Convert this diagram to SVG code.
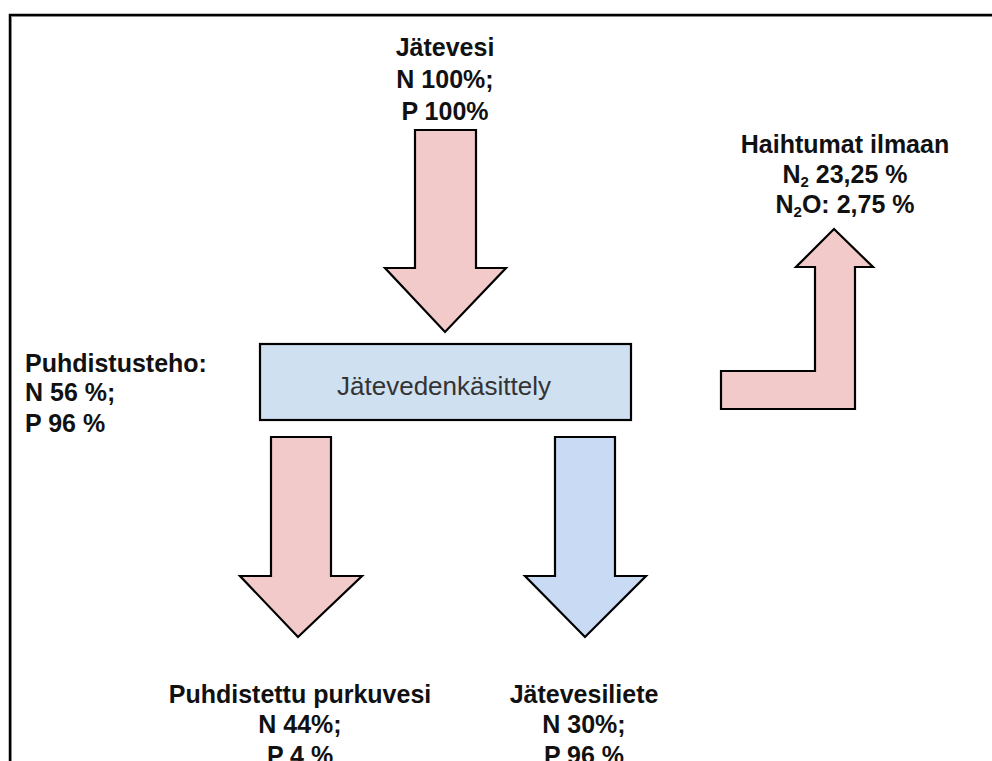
<svg xmlns="http://www.w3.org/2000/svg" width="992" height="761" viewBox="0 0 992 761">
<style>
.lbl{font-family:"Liberation Sans",Arial,sans-serif;font-weight:bold;font-size:25px;fill:#111;}
.mid{text-anchor:middle;}
.sub{font-size:15px;}
.arrow{stroke:#000;stroke-width:2.2;stroke-linejoin:miter;}
.pink{fill:#f3caca;}
.blue{fill:#c9daf5;}
</style>
<rect width="992" height="761" fill="#fff"/>
<path d="M10,761 V15 H992" fill="none" stroke="#000" stroke-width="2.5"/>
<path d="M11.5,761 V16.5 H992" fill="none" stroke="#888" stroke-width="1"/>

<g id="connectors">
  <path id="arrow-in" class="arrow pink" d="M415,130 H476 V268 H506 L445,332 L385,268 H415 Z"/>
  <path id="arrow-purkuvesi" class="arrow pink" d="M271,437 H331 V576 H362 L298,637 L240,576 H271 Z"/>
  <path id="arrow-liete" class="arrow blue" d="M555,437 H615 V576 H646 L585,637 L525,576 H555 Z"/>
  <path id="arrow-ilmaan" class="arrow pink" d="M721,371 H815 V267 H796 L834,229 L873,267 H855 V409 H721 Z"/>
</g>

<g id="node-jatevesi">
  <text class="lbl mid" x="445" y="56">Jätevesi</text>
  <text class="lbl mid" x="445" y="88">N 100%;</text>
  <text class="lbl mid" x="445" y="120">P 100%</text>
</g>

<g id="node-kasittely">
  <rect x="260" y="344" width="371" height="76" fill="#cfe0f1" stroke="#000" stroke-width="2.2"/>
  <text x="444" y="395" text-anchor="middle" font-family="'Liberation Sans',Arial,sans-serif" font-size="26" fill="#333">Jätevedenkäsittely</text>
</g>

<g id="node-puhdistusteho">
  <text class="lbl" x="25" y="372">Puhdistusteho:</text>
  <text class="lbl" x="25" y="401">N 56 %;</text>
  <text class="lbl" x="25" y="432">P 96 %</text>
</g>

<g id="node-haihtumat">
  <text class="lbl mid" x="845" y="153">Haihtumat ilmaan</text>
  <text class="lbl mid" x="845" y="183">N<tspan class="sub" dy="4">2</tspan><tspan dy="-4"> 23,25 %</tspan></text>
  <text class="lbl mid" x="845" y="213">N<tspan class="sub" dy="4">2</tspan><tspan dy="-4">O: 2,75 %</tspan></text>
</g>

<g id="node-purkuvesi">
  <text class="lbl mid" x="300" y="703">Puhdistettu purkuvesi</text>
  <text class="lbl mid" x="300" y="733">N 44%;</text>
  <text class="lbl mid" x="300" y="764">P 4 %</text>
</g>

<g id="node-liete">
  <text class="lbl mid" x="584" y="703">Jätevesiliete</text>
  <text class="lbl mid" x="584" y="733">N 30%;</text>
  <text class="lbl mid" x="584" y="764">P 96 %</text>
</g>
</svg>
